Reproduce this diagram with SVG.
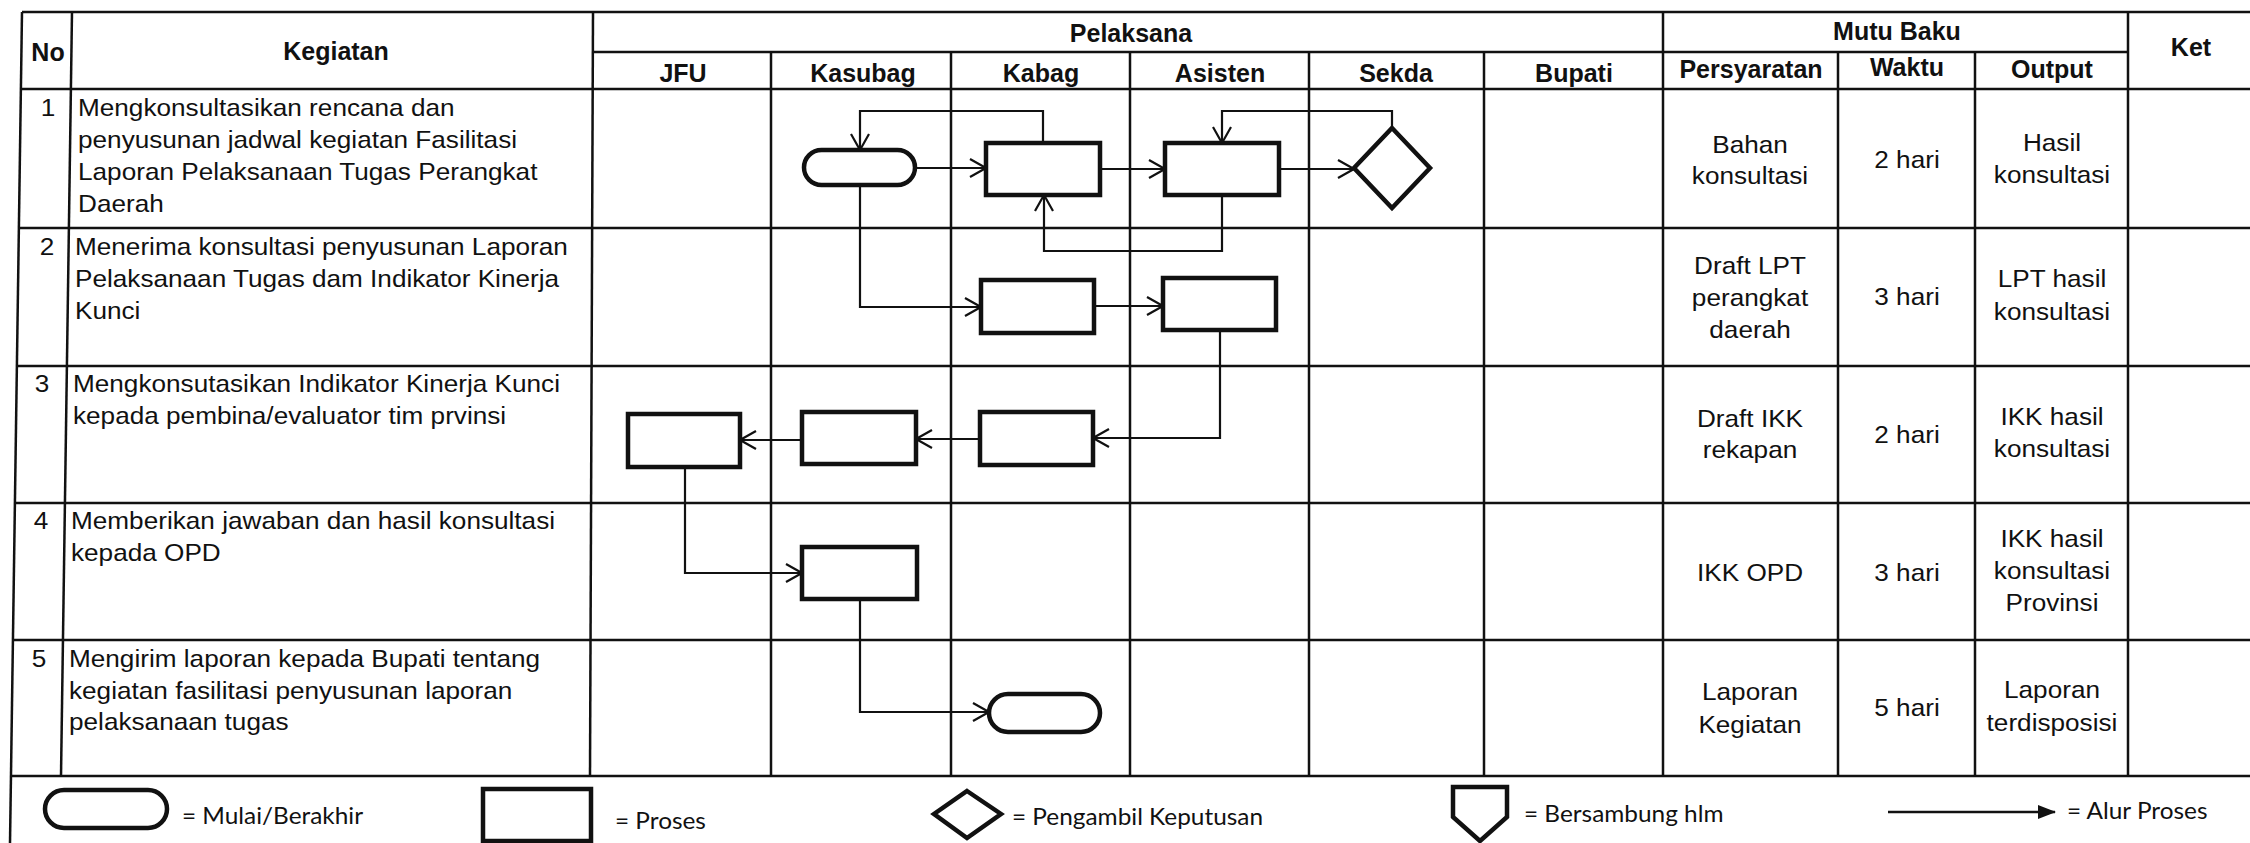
<svg xmlns="http://www.w3.org/2000/svg" width="2250" height="843" viewBox="0 0 2250 843">
<style>
.grid{stroke:#111;stroke-width:2.5;fill:none}
.box{fill:#fff;stroke:#111;stroke-width:4.5}
.conn{fill:none;stroke:#111;stroke-width:2.2;marker-end:url(#arr)}
.t{font-family:"Liberation Sans",Arial,sans-serif;font-size:24px;fill:#111}
.b{font-family:"Liberation Sans",Arial,sans-serif;font-size:25px;font-weight:bold;fill:#111;text-anchor:middle}
.c{text-anchor:middle}
.lg{font-family:Lato,"Open Sans",sans-serif;font-size:23px;fill:#111}
</style>
<defs>
<marker id="arr" viewBox="0 0 18 20" refX="17" refY="10" markerWidth="18" markerHeight="20" markerUnits="userSpaceOnUse" orient="auto">
<path d="M1,1 L17,10 L1,19" fill="none" stroke="#111" stroke-width="2.2"/>
</marker>
<marker id="arrf" viewBox="0 0 18 14" refX="17" refY="7" markerWidth="18" markerHeight="14" markerUnits="userSpaceOnUse" orient="auto">
<path d="M0,0 L18,7 L0,14 Z" fill="#111"/>
</marker>
</defs>
<rect width="2250" height="843" fill="#fff"/>
<g id="table">
<line class="grid" x1="22" y1="12" x2="2250" y2="12"/>
<line class="grid" x1="593" y1="52" x2="2128" y2="52"/>
<line class="grid" x1="21" y1="89" x2="2250" y2="89"/>
<line class="grid" x1="19" y1="228" x2="2250" y2="228"/>
<line class="grid" x1="17" y1="366" x2="2250" y2="366"/>
<line class="grid" x1="15" y1="503" x2="2250" y2="503"/>
<line class="grid" x1="13" y1="640" x2="2250" y2="640"/>
<line class="grid" x1="11" y1="776" x2="2250" y2="776"/>
<line class="grid" x1="22" y1="12" x2="10" y2="843"/>
<line class="grid" x1="72" y1="12" x2="61" y2="776"/>
<line class="grid" x1="593" y1="12" x2="590" y2="776"/>
<line class="grid" x1="771" y1="52" x2="771" y2="776"/>
<line class="grid" x1="951" y1="52" x2="951" y2="776"/>
<line class="grid" x1="1130" y1="52" x2="1130" y2="776"/>
<line class="grid" x1="1309" y1="52" x2="1309" y2="776"/>
<line class="grid" x1="1484" y1="52" x2="1484" y2="776"/>
<line class="grid" x1="1663" y1="12" x2="1663" y2="776"/>
<line class="grid" x1="1838" y1="52" x2="1838" y2="776"/>
<line class="grid" x1="1975" y1="52" x2="1975" y2="776"/>
<line class="grid" x1="2128" y1="12" x2="2128" y2="776"/>
</g>
<g id="headers">
<text class="b" x="48" y="61">No</text>
<text class="b" x="336" y="60">Kegiatan</text>
<text class="b" x="1131" y="42">Pelaksana</text>
<text class="b" x="683" y="82">JFU</text>
<text class="b" x="863" y="82">Kasubag</text>
<text class="b" x="1041" y="82">Kabag</text>
<text class="b" x="1220" y="82">Asisten</text>
<text class="b" x="1396" y="82">Sekda</text>
<text class="b" x="1574" y="82">Bupati</text>
<text class="b" x="1897" y="40">Mutu Baku</text>
<text class="b" x="1751" y="78">Persyaratan</text>
<text class="b" x="1907" y="76">Waktu</text>
<text class="b" x="2052" y="78">Output</text>
<text class="b" x="2191" y="56">Ket</text>
</g>
<g id="rows">
<text class="t c" transform="translate(48,116) scale(1.09,1)">1</text>
<text class="t" transform="translate(78,116) scale(1.09,1)"><tspan x="0" y="0">Mengkonsultasikan rencana dan</tspan><tspan x="0" y="32">penyusunan jadwal kegiatan Fasilitasi</tspan><tspan x="0" y="64">Laporan Pelaksanaan Tugas Perangkat</tspan><tspan x="0" y="96">Daerah</tspan></text>
<text class="t c" transform="translate(47,255) scale(1.09,1)">2</text>
<text class="t" transform="translate(75,255) scale(1.09,1)"><tspan x="0" y="0">Menerima konsultasi penyusunan Laporan</tspan><tspan x="0" y="32">Pelaksanaan Tugas dam Indikator Kinerja</tspan><tspan x="0" y="64">Kunci</tspan></text>
<text class="t c" transform="translate(42,392) scale(1.09,1)">3</text>
<text class="t" transform="translate(73,392) scale(1.09,1)"><tspan x="0" y="0">Mengkonsutasikan Indikator Kinerja Kunci</tspan><tspan x="0" y="32">kepada pembina/evaluator tim prvinsi</tspan></text>
<text class="t c" transform="translate(41,529) scale(1.09,1)">4</text>
<text class="t" transform="translate(71,529) scale(1.09,1)"><tspan x="0" y="0">Memberikan jawaban dan hasil konsultasi</tspan><tspan x="0" y="32">kepada OPD</tspan></text>
<text class="t c" transform="translate(39,667) scale(1.09,1)">5</text>
<text class="t" transform="translate(69,667) scale(1.09,1)"><tspan x="0" y="0">Mengirim laporan kepada Bupati tentang</tspan><tspan x="0" y="32">kegiatan fasilitasi penyusunan laporan</tspan><tspan x="0" y="63">pelaksanaan tugas</tspan></text>
</g>
<g id="mutu">
<text class="t c" transform="translate(1750,153) scale(1.09,1)"><tspan x="0" y="0">Bahan</tspan><tspan x="0" y="31">konsultasi</tspan></text>
<text class="t c" transform="translate(1907,168) scale(1.09,1)">2 hari</text>
<text class="t c" transform="translate(2052,151) scale(1.09,1)"><tspan x="0" y="0">Hasil</tspan><tspan x="0" y="32">konsultasi</tspan></text>
<text class="t c" transform="translate(1750,274) scale(1.09,1)"><tspan x="0" y="0">Draft LPT</tspan><tspan x="0" y="32">perangkat</tspan><tspan x="0" y="64">daerah</tspan></text>
<text class="t c" transform="translate(1907,305) scale(1.09,1)">3 hari</text>
<text class="t c" transform="translate(2052,287) scale(1.09,1)"><tspan x="0" y="0">LPT hasil</tspan><tspan x="0" y="33">konsultasi</tspan></text>
<text class="t c" transform="translate(1750,427) scale(1.09,1)"><tspan x="0" y="0">Draft IKK</tspan><tspan x="0" y="31">rekapan</tspan></text>
<text class="t c" transform="translate(1907,443) scale(1.09,1)">2 hari</text>
<text class="t c" transform="translate(2052,425) scale(1.09,1)"><tspan x="0" y="0">IKK hasil</tspan><tspan x="0" y="32">konsultasi</tspan></text>
<text class="t c" transform="translate(1750,581) scale(1.09,1)">IKK OPD</text>
<text class="t c" transform="translate(1907,581) scale(1.09,1)">3 hari</text>
<text class="t c" transform="translate(2052,547) scale(1.09,1)"><tspan x="0" y="0">IKK hasil</tspan><tspan x="0" y="32">konsultasi</tspan><tspan x="0" y="64">Provinsi</tspan></text>
<text class="t c" transform="translate(1750,700) scale(1.09,1)"><tspan x="0" y="0">Laporan</tspan><tspan x="0" y="33">Kegiatan</tspan></text>
<text class="t c" transform="translate(1907,716) scale(1.09,1)">5 hari</text>
<text class="t c" transform="translate(2052,698) scale(1.09,1)"><tspan x="0" y="0">Laporan</tspan><tspan x="0" y="33">terdisposisi</tspan></text>
</g>
<g id="connectors">
<path class="conn" d="M915,168 H986"/>
<path class="conn" d="M1100,169 H1165"/>
<path class="conn" d="M1279,169 H1354"/>
<path class="conn" d="M1043,143 V111 H860 V150"/>
<path class="conn" d="M1392,128 V111 H1222 V143"/>
<path class="conn" d="M1222,195 V251 H1044 V195"/>
<path class="conn" d="M860,185 V307 H981"/>
<path class="conn" d="M1094,306 H1163"/>
<path class="conn" d="M1220,330 V438 H1093"/>
<path class="conn" d="M980,439 H916"/>
<path class="conn" d="M802,440 H740"/>
<path class="conn" d="M685,467 V573 H802"/>
<path class="conn" d="M860,599 V712 H989"/>
</g>
<g id="n1"><rect class="box" x="804" y="150" width="111" height="35" rx="17.5"/></g>
<g id="n2"><rect class="box" x="986" y="143" width="114" height="52"/></g>
<g id="n3"><rect class="box" x="1165" y="143" width="114" height="52"/></g>
<g id="n4"><polygon class="box" points="1392,128 1430,168 1392,208 1354,168"/></g>
<g id="n5"><rect class="box" x="981" y="280" width="113" height="53"/></g>
<g id="n6"><rect class="box" x="1163" y="278" width="113" height="52"/></g>
<g id="n7"><rect class="box" x="980" y="412" width="113" height="53"/></g>
<g id="n8"><rect class="box" x="802" y="412" width="114" height="52"/></g>
<g id="n9"><rect class="box" x="628" y="414" width="112" height="53"/></g>
<g id="n10"><rect class="box" x="802" y="547" width="115" height="52"/></g>
<g id="n11"><rect class="box" x="989" y="694" width="111" height="38" rx="19"/></g>
<g id="legend">
<rect class="box" x="45" y="790" width="122" height="38" rx="19"/>
<text class="lg" transform="translate(182,824) scale(1.06,1)">= Mulai/Berakhir</text>
<rect class="box" x="483" y="789" width="108" height="52"/>
<text class="lg" transform="translate(615,829) scale(1.06,1)">= Proses</text>
<polygon class="box" points="967,791 1001,814 967,838 934,814"/>
<text class="lg" transform="translate(1012,825) scale(1.06,1)">= Pengambil Keputusan</text>
<path class="box" d="M1453,787 H1507 V817 L1480,841 L1453,817 Z"/>
<text class="lg" transform="translate(1524,822) scale(1.06,1)">= Bersambung hlm</text>
<line x1="1888" y1="812" x2="2055" y2="812" stroke="#111" stroke-width="2.5" marker-end="url(#arrf)"/>
<text class="lg" transform="translate(2067,819) scale(1.06,1)">= Alur Proses</text>
</g>
</svg>
